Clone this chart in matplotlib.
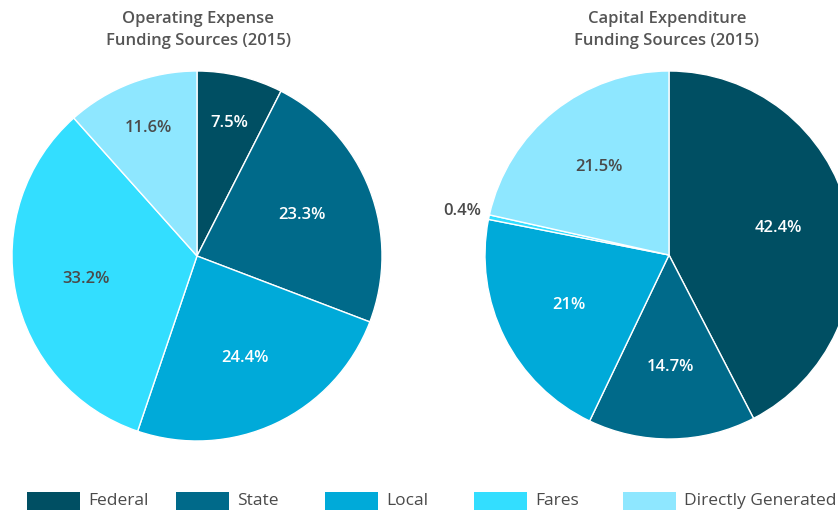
import numpy as np
import matplotlib.pyplot as plt
from matplotlib.patches import Rectangle

# funding share by source, 2015 (percent)
categories = ["Federal", "State", "Local", "Fares", "Directly Generated"]
operating = [7.5, 23.3, 24.4, 33.2, 11.6]
capital = [42.4, 14.7, 21, 0.4, 21.5]
operating_labels = ["7.5%", "23.3%", "24.4%", "33.2%", "11.6%"]
capital_labels = ["42.4%", "14.7%", "21%", "0.4%", "21.5%"]
titles = ["Operating Expense\nFunding Sources (2015)",
          "Capital Expenditure\nFunding Sources (2015)"]

colors = ["#004f63", "#006a8a", "#00aad9", "#33deff", "#8ee7ff"]
text_dark = "#4a4a4a"

plt.rcParams["font.family"] = ["Open Sans", "DejaVu Sans"]

W, H = 838, 512
fig = plt.figure(figsize=(W / 100, H / 100), dpi=100)
ax = fig.add_axes([0, 0, 1, 1])


def draw_pie(values, labels, center, radius):
    wedges, _ = ax.pie(values, colors=colors, startangle=90, counterclock=False,
                       center=center, radius=radius,
                       wedgeprops=dict(edgecolor="white", linewidth=1))
    for w, lab, v in zip(wedges, labels, values):
        mid = (w.theta1 + w.theta2) / 2
        if v < 1:
            d = 1.15
        elif v < 12:
            d = 0.74
        else:
            d = 0.61
        x = center[0] + d * radius * np.cos(np.radians(mid))
        y = center[1] + d * radius * np.sin(np.radians(mid))
        fc = w.get_facecolor()
        light = fc[0] + fc[1] > 1.0
        c = text_dark if (light or v < 1) else "white"
        ax.text(x, y, lab, ha="center", va="center", fontsize=12,
                color=c, fontweight="semibold")


draw_pie(operating, operating_labels, (197, H - 256), 185)
draw_pie(capital, capital_labels, (669, H - 255), 184)

for cx, t in zip([198, 667], titles):
    ax.text(cx, H - 30, t, ha="center", va="center", fontsize=12,
            color="#555555", linespacing=1.45, fontweight="semibold")

# legend, fixed-width columns
for i, (cat, col) in enumerate(zip(categories, colors)):
    x0 = 27 + 149 * i
    ax.add_patch(Rectangle((x0, H - 510), 53, 18, facecolor=col, edgecolor="none"))
    ax.text(x0 + 61, H - 501, cat, ha="left", va="center", fontsize=12.5,
            color=text_dark)

ax.set_xlim(0, W)
ax.set_ylim(0, H)
ax.set_aspect("equal")
ax.axis("off")

fig.savefig("out.png", dpi=100)
